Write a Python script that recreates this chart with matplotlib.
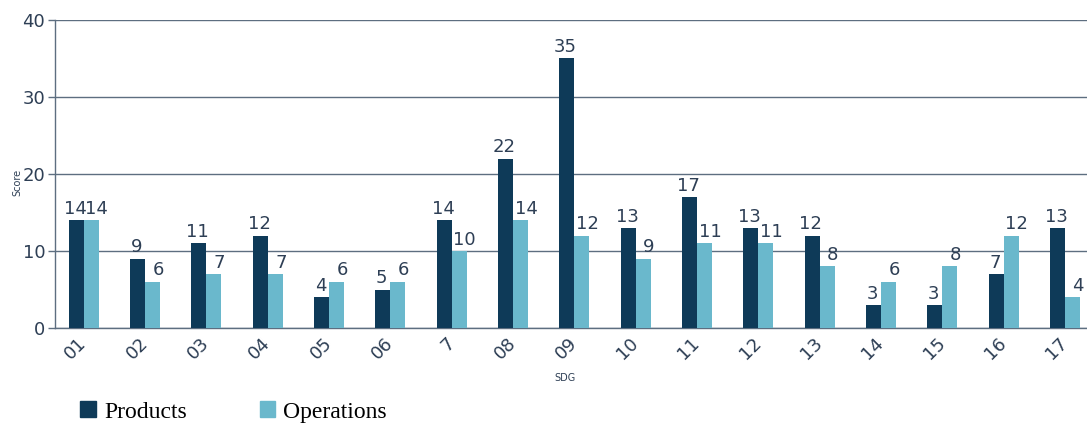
import matplotlib
matplotlib.use("Agg")
import matplotlib.pyplot as plt
from matplotlib.patches import Patch
import numpy as np

categories = ["01", "02", "03", "04", "05", "06", "7", "08", "09", "10", "11", "12", "13", "14", "15", "16", "17"]
products = [14, 9, 11, 12, 4, 5, 14, 22, 35, 13, 17, 13, 12, 3, 3, 7, 13]
operations = [14, 6, 7, 7, 6, 6, 10, 14, 12, 9, 11, 11, 8, 6, 8, 12, 4]
yticks = [0, 10, 20, 30, 40]

c_prod = "#0e3a58"
c_ops = "#6ab8cc"
txt = "#2e3f55"
grid = "#5d6e80"

fig = plt.figure(figsize=(10.87, 4.23), dpi=100)
ax = fig.add_axes([55/1087, 1-328/423, 1032/1087, 308/423])

x = np.arange(len(categories))
w = 0.245
ax.bar(x - w/2, products, w, color=c_prod, zorder=3)
ax.bar(x + w/2, operations, w, color=c_ops, zorder=3)
for i in range(len(categories)):
    ax.text(x[i] - w/2 - 0.02, products[i] + 0.3, str(products[i]), ha="center", va="bottom",
            fontsize=13, color=txt, zorder=4)
    ax.text(x[i] + w/2 + 0.09, operations[i] + 0.3, str(operations[i]), ha="center", va="bottom",
            fontsize=13, color=txt, zorder=4)

ax.set_xlim(-0.47, 16.36)
ax.set_ylim(0, 40)
ax.set_yticks(yticks)
ax.set_yticklabels([str(t) for t in yticks], fontsize=13, color=txt)
ax.set_xticks(x)
ax.set_xticklabels(categories, rotation=45, ha="right", va="center", rotation_mode="anchor",
                   fontsize=13, color=txt)
ax.tick_params(axis="x", length=0, pad=9)
ax.tick_params(axis="y", length=5, color=grid, width=1, pad=2)
ax.yaxis.grid(True, color=grid, linewidth=1, zorder=0)
for s in ["top", "right"]:
    ax.spines[s].set_visible(False)
for s in ["left", "bottom"]:
    ax.spines[s].set_color(grid)
    ax.spines[s].set_linewidth(1)

fig.text(17/1087, 1-182/423, "Score", fontsize=7, color=txt, ha="center", va="center", rotation=90)
fig.text(565/1087, 1-378/423, "SDG", fontsize=7, color=txt, ha="center", va="center")

handles = [Patch(color=c_prod, label="Products"), Patch(color=c_ops, label="Operations")]
fig.legend(handles=handles, loc="center left", bbox_to_anchor=(59/1087, 1-412/423), ncol=2,
           frameon=False, prop={"family": "Liberation Serif", "size": 17},
           handlelength=0.65, handleheight=0.65, handletextpad=0.35, columnspacing=3.1)

fig.savefig("out.png", dpi=100)
